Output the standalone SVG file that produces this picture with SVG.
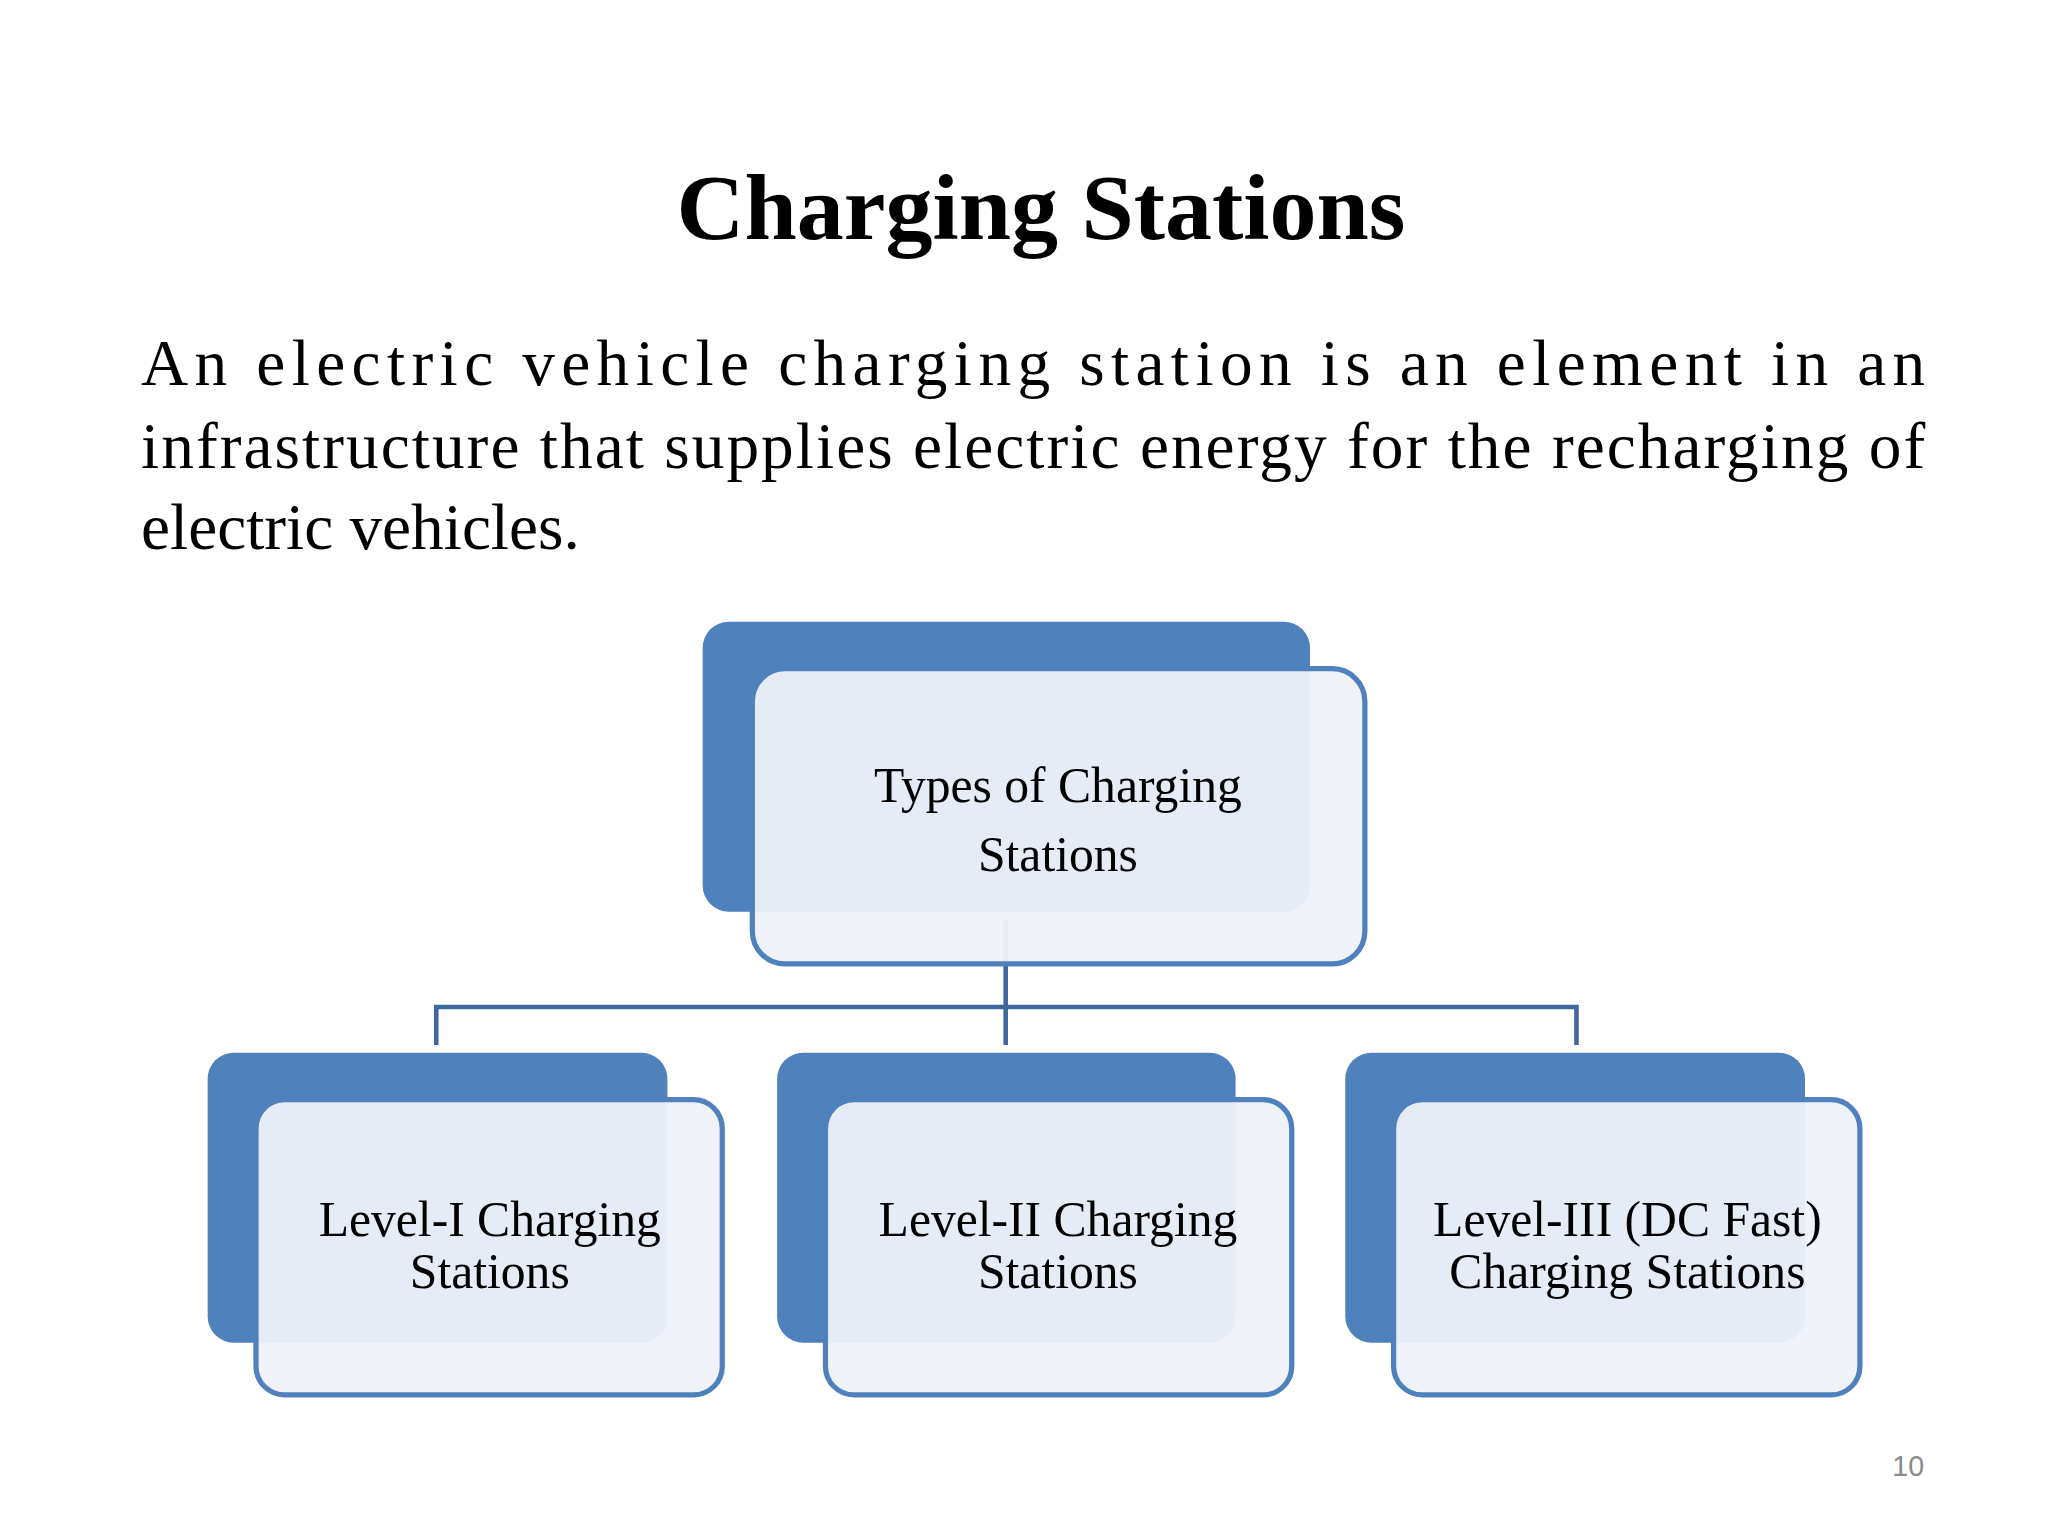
<svg xmlns="http://www.w3.org/2000/svg" width="2048" height="1536" viewBox="0 0 2048 1536">
<style>
.s{font-family:"Liberation Serif","Times New Roman",serif;fill:#000}
.back{fill:#4f81bd}
.front{fill:#eef1f9;fill-opacity:0.95;stroke:#4f81bd;stroke-width:4}
.lbl{font-family:"Liberation Serif",serif;font-size:38px;text-anchor:middle;fill:#000}
.c{fill:none;stroke:#3f679b;stroke-width:3.5}
</style>
<rect width="2048" height="1536" fill="#fff"/>
<g transform="scale(1.3061)">
<text class="s" x="797" y="183" font-size="72" font-weight="bold" text-anchor="middle">Charging Stations</text>
<text class="s" font-size="50">
<tspan x="108" y="295" textLength="1366" lengthAdjust="spacing">An electric vehicle charging station is an element in an</tspan>
<tspan x="108" y="358" textLength="1366" lengthAdjust="spacing">infrastructure that supplies electric energy for the recharging of</tspan>
<tspan x="108" y="420">electric vehicles.</tspan>
</text>
<g id="connectors">
<path class="c" d="M770 705 V800 M334 800 V771 H1207 V800"/>
</g>
<g id="top">
<rect class="back" x="538" y="476" width="465" height="222" rx="20"/>
<rect class="front" x="576" y="512" width="469" height="226" rx="25"/>
<text class="lbl" font-size="50" x="810" y="614">Types of Charging</text>
<text class="lbl" font-size="50" x="810" y="667">Stations</text>
</g>
<g id="l1">
<rect class="back" x="159" y="806" width="352" height="222" rx="20"/>
<rect class="front" x="196" y="842" width="357" height="226" rx="22"/>
<text class="lbl" x="375" y="946">Level-I Charging</text>
<text class="lbl" x="375" y="986">Stations</text>
</g>
<g id="l2">
<rect class="back" x="595" y="806" width="351" height="222" rx="20"/>
<rect class="front" x="632" y="842" width="357" height="226" rx="22"/>
<text class="lbl" x="810" y="946">Level-II Charging</text>
<text class="lbl" x="810" y="986">Stations</text>
</g>
<g id="l3">
<rect class="back" x="1030" y="806" width="352" height="222" rx="20"/>
<rect class="front" x="1067" y="842" width="357" height="226" rx="22"/>
<text class="lbl" x="1246" y="946">Level-III (DC Fast)</text>
<text class="lbl" x="1246" y="986">Charging Stations</text>
</g>
<text x="1461" y="1130" font-family="'Liberation Sans',sans-serif" font-size="22" fill="#8a8a8a" text-anchor="middle">10</text>
</g>
</svg>
